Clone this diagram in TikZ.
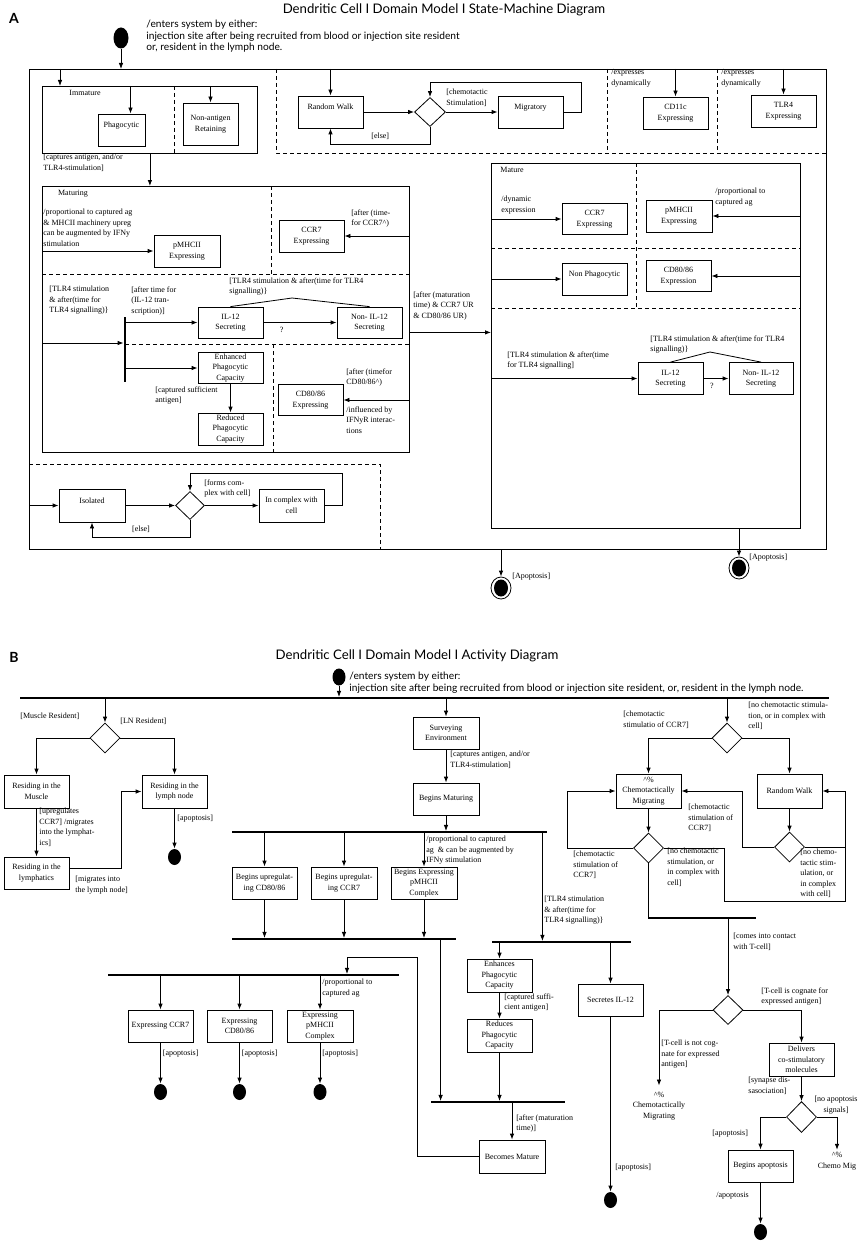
\documentclass[tikz,border=0pt]{standalone}
\usepackage{fontspec}
\setmainfont{Liberation Serif}
\setsansfont{Lato}
\usetikzlibrary{arrows.meta, positioning, shapes.geometric}

\newcommand\smallserif{\fontsize{8}{10.5}\selectfont}
\newcommand\notefont{\sffamily\fontsize{10.2}{11.5}\selectfont}

\begin{document}
\begin{tikzpicture}[
    x = 1pt, y = -1pt,
    line width = 0.8pt,
arr/.style = {-{Latex[length=6pt, width=4.5pt]}},
box/.style = {draw, minimum width=65pt, minimum height=32pt,
              inner sep=0pt, align=center, font=\smallserif},
frame/.style = {draw, anchor=north west, inner sep=0pt},
swim/.style = {dash pattern=on 4pt off 3pt},
choice/.style = {diamond, draw, minimum width=30pt, minimum height=30pt, inner sep=0pt},
start/.style = {ellipse, fill, minimum width=13pt, minimum height=17pt, inner sep=0pt},
stop/.style = {ellipse, draw, minimum width=20pt, minimum height=22pt, inner sep=0pt,
               path picture={\fill (path picture bounding box.center) ellipse (7pt and 8.5pt);}},
syncbar/.style = {fill, minimum height=1.3pt, inner sep=0pt},
lbl/.style = {font=\smallserif, align=left, inner sep=0pt, anchor=north west},
note/.style = {font=\notefont, align=left, inner sep=0pt, anchor=north west},
title/.style = {font=\sffamily\fontsize{13.2}{15}\selectfont, inner sep=0pt},
panel/.style = {font=\sffamily\bfseries\fontsize{14}{14}\selectfont, inner sep=0pt},
                    ]
\useasboundingbox (0,0) rectangle (862,1244);
% A: state machine
\node[panel] (panelA) at (14,18) {A};
\node[title] (titleA) at (444,10) {Dendritic Cell I Domain Model I State-Machine Diagram};
\node[start, minimum width=15pt, minimum height=21pt] (initA) at (121,38) {};
\node[note] (enterA) at (146,20) {/enters system by either:\\injection site after being recruited from blood or injection site resident\\or, resident in the lymph node.};
\node[frame, minimum width=797pt, minimum height=480pt] (outer) at (29,69) {};
\draw[arr] (initA) -- (initA |- outer.north);
%
\node[frame, minimum width=215pt, minimum height=67pt] (immature) at (42,86) {};
\coordinate (immIn) at (60,86);
\draw[arr] (immIn |- outer.north) -- (immIn);
\node[font=\smallserif] at (85,93) {Immature};
\draw[swim] (174,86) -- (174,153);
\node[box, minimum width=47pt] (phag) at (121.5,130) {Phagocytic\\\mbox{}};
\node[box, minimum width=55pt, minimum height=42pt] (nonAg) at (210.5,124) {Non-antigen\\Retaining};
\draw[arr] ([xshift=9pt]phag.north |- immature.north) -- ([xshift=9pt]phag.north);
\draw[arr] (nonAg |- immature.north) -- (nonAg);
\node[lbl] at (43,154) {[captures antigen, and/or\\TLR4-stimulation]};
%
\draw[swim] (276,69) -- (276,153) -- (826,153);
\draw[swim] (607,69) -- (607,153);
\draw[swim] (717,69) -- (717,153);
\node[box] (walkA) at (330.5,112) {Random Walk\\\mbox{}};
\node[choice, minimum width=31pt, minimum height=29pt] (chA) at (430,112) {};
\node[box] (migA) at (530.5,112) {Migratory\\\mbox{}};
\draw[arr] (walkA |- outer.north) -- (walkA);
\draw[arr] (walkA) -- (chA);
\draw[arr] (chA) -- (migA);
\node[lbl] at (446,89) {[chemotactic\\Stimulation]};
\draw[arr] (migA.east) -- ++(18,0) |- ([yshift=15pt]chA.north) -- (chA.north);
\draw[arr] (chA.south) -- ++(0,17) -| node[pos=0.25, above=1pt, font=\smallserif] {[else]} (walkA.south);
\node[box] (cd11A) at (675.5,113) {CD11c\\Expressing};
\node[box] (tlr4A) at (783.5,111) {TLR4\\Expressing};
\draw[arr] (cd11A |- outer.north) -- (cd11A);
\draw[arr] (tlr4A |- outer.north) -- (tlr4A);
\node[lbl] at (611,69) {/expresses\\dynamically};
\node[lbl] at (721,69) {/expresses\\dynamically};
%
\node[frame, minimum width=367pt, minimum height=266pt] (maturing) at (42,186) {};
\node[frame, minimum width=309pt, minimum height=365pt] (mature) at (491,163) {};
\draw[arr] (immature.south) -- (immature.south |- maturing.north);
\node[font=\smallserif] at (73,194) {Maturing};
\draw[swim] (271,186) -- (271,274);
\draw[swim] (42,274) -- (409,274);
\draw[swim] (125,344) -- (409,344);
\draw[swim] (273,344) -- (273,452);
\node[box, minimum width=66pt] (pmhcA) at (187,251) {pMHCII\\Expressing};
\node[lbl] at (43,209) {/proportional to captured ag\\\& MHCII machinery upreg\\can be augmented by IFNy\\stimulation};
\draw[arr] (maturing.west |- pmhcA) -- (pmhcA);
\node[box] (ccr7A) at (311.5,236) {CCR7\\Expressing};
\draw[arr] (maturing.east |- ccr7A) -- (ccr7A);
\node[lbl] at (351,209) {[after (time-\\for CCR7\textasciicircum)};
\node[fill, minimum width=2pt, minimum height=65pt, inner sep=0pt] (forkA) at (125,349.5) {};
\draw[arr] ([yshift=6.5pt]forkA.west -| maturing.west) -- ([yshift=6.5pt]forkA.west);
\node[lbl] at (49,286) {[TLR4 stimulation\\\& after(time for\\TLR4 signalling)\}};
\node[lbl] at (131,286) {[after time for\\(IL-12 tran-\\scription)]};
\node[box, minimum height=31pt] (il12A) at (230.5,322.5) {IL-12\\Secreting};
\node[box, minimum height=31pt] (nil12A) at (369.5,322.5) {Non- IL-12\\Secreting};
\draw[arr] (forkA.east |- il12A) -- (il12A);
\draw[arr] (il12A) -- node[below=1pt, pos=0.25, font=\smallserif] {?} (nil12A);
\coordinate (peakA) at (292,298);
\draw (il12A.north) -- (peakA) -- (nil12A.north);
\node[lbl] at (229,277) {[TLR4 stimulation \& after(time for TLR4\\signalling)\}};
\node[box, minimum height=31pt] (enhA) at (230.5,368) {Enhanced\\Phagocytic\\Capacity};
\node[box] (redA) at (230.5,429) {Reduced\\Phagocytic\\Capacity};
\draw[arr] (forkA.east |- enhA) -- (enhA);
\draw[arr] (enhA) -- (redA);
\node[lbl] at (155,386) {[captured sufficient\\antigen]};
\node[box, minimum height=31pt] (cd80A) at (310.5,400) {CD80/86\\Expressing};
\draw[arr] (maturing.east |- cd80A) -- (cd80A);
\node[lbl] at (346,368) {[after (timefor\\CD80/86\textasciicircum)};
\node[lbl] at (346,406) {/influenced by\\IFNyR interac-\\tions};
\draw[arr] ([yshift=-13pt]maturing.east) -- ([yshift=-13pt]maturing.east -| mature.west);
\node[lbl] at (413,291) {[after (maturation\\time) \& CCR7 UR\\\& CD80/86 UR)};
%
\node[font=\smallserif] at (512,170) {Mature};
\draw[swim] (636,163) -- (636,308);
\draw[swim] (491,248) -- (800,248);
\draw[swim] (491,308) -- (800,308);
\node[box, minimum height=31pt] (ccr7M) at (594.5,219) {CCR7\\Expressing};
\draw[arr] (mature.west |- ccr7M) -- (ccr7M);
\node[lbl] at (501,196) {/dynamic\\expression};
\node[box, minimum width=66pt] (pmhcM) at (679,216) {pMHCII\\Expressing};
\draw[arr] (mature.east |- pmhcM) -- (pmhcM);
\node[lbl] at (715,188) {/proportional to\\captured ag};
\node[box] (nonPhM) at (594.5,279) {Non Phagocytic\\\mbox{}};
\draw[arr] (mature.west |- nonPhM) -- (nonPhM);
\node[box, minimum height=31pt] (cd80M) at (678.5,276) {CD80/86\\Expression};
\draw[arr] (mature.east |- cd80M) -- (cd80M);
\node[lbl] at (507,351) {[TLR4 stimulation \& after(time\\for TLR4 signalling]};
\node[box] (il12M) at (670.5,378.5) {IL-12\\Secreting};
\node[box, minimum width=64pt] (nil12M) at (761,378.5) {Non- IL-12\\Secreting};
\draw[arr] (mature.west |- il12M) -- (il12M);
\draw[arr] (il12M) -- (nil12M);
\node[font=\smallserif] at (712,386) {?};
\coordinate (peakM) at (710,352);
\draw (il12M.north) -- (peakM) -- (nil12M.north);
\node[lbl] at (650,335) {[TLR4 stimulation \& after(time for TLR4\\signalling)\}};
%
\draw[swim] (29,464) -- (380,464) -- (380,549);
\node[box, minimum width=66pt, minimum height=33pt] (isoA) at (92,505.5) {Isolated\\\mbox{}};
\node[choice, minimum width=29pt, minimum height=28pt] (chI) at (190,505.5) {};
\node[box, minimum height=33pt] (cplxA) at (291.5,505.5) {In complex with\\cell};
\draw[arr] (outer.west |- isoA) -- (isoA);
\draw[arr] (isoA) -- (chI);
\draw[arr] (chI) -- (cplxA);
\node[lbl] at (204,479) {[forms com-\\plex with cell]};
\draw[arr] (cplxA.east) -- ++(18,0) |- ([yshift=18pt]chI.north) -- (chI.north);
\draw[arr] (chI.south) -- ++(0,17) -| node[pos=0.25, above=1pt, font=\smallserif] {[else]} (isoA.south);
%
\node[stop] (endO) at (501,588) {};
\draw[arr] (endO |- outer.south) -- (endO);
\node[lbl] at (512,573) {[Apoptosis]};
\node[stop] (endM) at (739,568) {};
\draw[arr] (endM |- mature.south) -- (endM);
\node[lbl] at (749,554) {[Apoptosis]};
% B: activity
\node[panel] (panelB) at (14,657) {B};
\node[title] (titleB) at (417,656) {Dendritic Cell I Domain Model I Activity Diagram};
\node[start] (initB) at (339,677) {};
\node[note] (enterB) at (349,672) {/enters system by either:\\injection site after being recruited from blood or injection site resident, or, resident in the lymph node.};
\node[syncbar, minimum width=809pt] (entryBar) at (424.5,698) {};
\draw[arr] (initB) -- (initB |- entryBar.north);
%
\node[choice] (chLoc) at (105,738) {};
\draw[arr] (chLoc |- entryBar.south) -- (chLoc);
\node[lbl] at (20,713) {[Muscle Resident]};
\node[lbl] at (120,718) {[LN Resident]};
\node[box, minimum height=33pt] (resMus) at (36.5,791.5) {Residing in the\\Muscle};
\node[box, minimum height=33pt] (resLN) at (174.5,791.5) {Residing in the\\lymph node};
\node[box] (resLy) at (36.5,873) {Residing in the\\lymphatics};
\draw[arr] (chLoc.west) -| (resMus);
\draw[arr] (chLoc.east) -| (resLN);
\draw[arr] (resMus) -- (resLy);
\node[lbl] at (39,808) {[upregulates\\CCR7] /migrates\\into the lymphat-\\ics]};
\draw[arr] ([yshift=5pt]resLy.east) -- ++(52,0) |- (resLN.west);
\node[lbl] at (75,876) {[migrates into\\the lymph node]};
\node[start, minimum height=16pt] (endLN) at (174.5,857) {};
\draw[arr] (resLN) -- (endLN);
\node[lbl] at (177,815) {[apoptosis]};
%
\node[box, minimum width=66pt] (survey) at (446,733) {Surveying\\Environment};
\draw[arr] (survey |- entryBar.south) -- (survey);
\node[box, minimum width=66pt] (begMat) at (446,799) {Begins Maturing};
\draw[arr] (survey) -- (begMat);
\node[lbl] at (450,751) {[captures antigen, and/or\\TLR4-stimulation]};
\node[syncbar, minimum width=315pt] (forkMat) at (389.5,832) {};
\draw[arr] (begMat) -- (begMat |- forkMat.north);
\node[box] (upCD) at (264.5,883) {Begins upregulat-\\ing CD80/86};
\node[box, minimum width=66pt] (upCCR) at (344,883) {Begins upregulat-\\ing CCR7};
\node[box, minimum width=66pt] (upMHC) at (424,883) {Begins Expressing\\pMHCII\\Complex};
\node[lbl] at (426,836) {/proportional to captured\\ag ~\& can be augmented by\\IFNy stimulation};
\node[syncbar, minimum width=224pt] (joinUp) at (344,939) {};
\foreach \n in {upCD, upCCR, upMHC} {
   \draw[arr] (\n |- forkMat.south) -- (\n);
   \draw[arr] (\n) -- (\n |- joinUp.north);
}
\node[syncbar, minimum width=139pt] (tlrBar) at (561.5,942) {};
\draw[arr] ([xshift=-5pt]forkMat.south east) -- ([xshift=-5pt]forkMat.south east |- tlrBar.north);
\node[lbl] at (544,896) {[TLR4 stimulation\\\& after(time for\\TLR4 signalling)\}};
\node[box, minimum height=33pt] (enhB) at (499.5,975.5) {Enhances\\Phagocytic\\Capacity};
\node[box, minimum height=33pt] (redB) at (499.5,1035.5) {Reduces\\Phagocytic\\Capacity};
\draw[arr] (enhB |- tlrBar.south) -- (enhB);
\draw[arr] (enhB) -- (redB);
\node[lbl] at (504,993) {[captured suffi-\\cient antigen]};
\node[box] (il12B) at (610.5,1000) {Secretes IL-12};
\draw[arr] (il12B |- tlrBar.south) -- (il12B);
\node[start, minimum height=16pt] (endIL) at (610.5,1200) {};
\draw[arr] (il12B) -- (endIL);
\node[lbl] at (615,1164) {[apoptosis]};
\node[syncbar, minimum width=134pt] (matBar) at (498,1102) {};
\draw[arr] (redB) -- (redB |- matBar.north);
\draw[arr] ([xshift=10pt]matBar.north west |- joinUp.south) -- ([xshift=10pt]matBar.north west);
\node[box, minimum width=66pt, minimum height=33pt] (becMat) at (512,1156.5) {Becomes Mature};
\draw[arr] (becMat |- matBar.south) -- (becMat);
\node[lbl] at (516,1114) {[after (maturation\\time)]};
%
\node[syncbar, minimum width=291pt] (fork2) at (253.5,975) {};
\coordinate (loopTop) at (417,957);
\draw[arr] (becMat.west) -| (loopTop) -| ([xshift=93.5pt]fork2.north);
\node[box] (exCCR) at (160.5,1026) {Expressing CCR7};
\node[box] (exCD) at (239.5,1026) {Expressing\\CD80/86};
\node[box, minimum width=66pt] (exMHC) at (320,1026) {Expressing\\pMHCII\\Complex};
\node[lbl] at (322,979) {/proportional to\\captured ag};
\foreach \n in {exCCR, exCD, exMHC} {
   \draw[arr] (\n |- fork2.south) -- (\n);
   \node[start, minimum height=16pt] (end-\n) at ([yshift=-66pt]\n) {};
   \draw[arr] (\n) -- (end-\n);
   \node[lbl] at ([xshift=2pt, yshift=-7pt]\n.south) {[apoptosis]};
}
%
\node[choice] (chMove) at (727,738) {};
\draw[arr] (chMove |- entryBar.south) -- (chMove);
\node[lbl] at (623,711) {[chemotactic\\stimulatio of CCR7]};
\node[lbl] at (748,702) {[no chemotactic stimula-\\tion, or in complex with\\cell]};
\node[box, minimum height=34pt] (chemo) at (648.5,791) {\textasciicircum\%\\Chemotactically\\Migrating};
\node[box, minimum height=34pt] (walkB) at (789.5,791) {Random Walk};
\draw[arr] (chMove.west) -| (chemo);
\draw[arr] (chMove.east) -| (walkB);
\node[choice] (chStay) at (648.5,848) {};
\node[choice] (chWalk) at (789.5,847) {};
\draw[arr] (chemo) -- (chStay);
\draw[arr] (walkB) -- (chWalk);
\draw[arr] (chStay.west) -- ++(-66,0) |- (chemo.west);
\node[lbl] at (573,851) {[chemotactic\\stimulation of\\CCR7]};
\draw[arr] (chWalk.west) -- ++(-32,0) |- (chemo.east);
\node[lbl] at (688,804) {[chemotactic\\stimulation of\\CCR7]};
\coordinate (walkBack) at ([xshift=23pt]walkB.east);
\draw[arr] (chStay.east) -- ++(60,0) -- ++(0,53) -| (walkBack) -- (walkB.east);
\draw (chWalk.east) -- (chWalk.east -| walkBack);
\node[lbl] at (667,848) {[no chemotactic\\stimulation, or\\in complex with\\cell]};
\node[lbl] at (800,849) {[no chemo-\\tactic stim-\\ulation, or\\in complex\\with cell]};
%
\node[syncbar, minimum width=108pt] (mergeBar) at (702,918) {};
\draw (chStay) -- (chStay |- mergeBar.north);
\node[choice, minimum height=29pt] (chT) at (728,1010) {};
\draw[arr] (chT |- mergeBar.south) -- (chT);
\node[lbl] at (733,933) {[comes into contact\\with T-cell]};
\node[font=\smallserif, align=center, inner sep=0pt] (migAgain) at (659,1106) {\textasciicircum\%\\Chemotactically\\Migrating};
\draw[arr] (chT.west) -| ([yshift=6pt]migAgain.north);
\node[lbl] at (661,1040) {[T-cell is not cog-\\nate for expressed\\antigen]};
\node[box, minimum height=33pt] (deliv) at (801.5,1059.5) {Delivers\\co-stimulatory\\molecules};
\draw[arr] (chT.east) -| (deliv);
\node[lbl] at (761,987) {[T-cell is cognate for\\expressed antigen]};
\node[choice, minimum height=31pt] (chApo) at (801.5,1117) {};
\draw[arr] (deliv) -- (chApo);
\node[lbl] at (748,1077) {[synapse dis-\\sasociation]};
\node[box] (begApo) at (760.5,1166) {Begins apoptosis};
\draw[arr] (chApo.west) -| (begApo);
\node[lbl] at (712,1130) {[apoptosis]};
\node[font=\smallserif, align=center, inner sep=0pt] (chemoMig) at (837,1161) {\textasciicircum\%\\Chemo Mig};
\draw[arr] (chApo.east) -| ([yshift=2pt]chemoMig.north);
\node[font=\smallserif, align=center, inner sep=0pt, anchor=north] at (836,1096) {[no apoptosis\\signals]};
\node[start, minimum height=16pt] (endApo) at (760.5,1232) {};
\draw[arr] (begApo) -- (endApo);
\node[lbl] at (716,1192) {/apoptosis};
\end{tikzpicture}
\end{document}
